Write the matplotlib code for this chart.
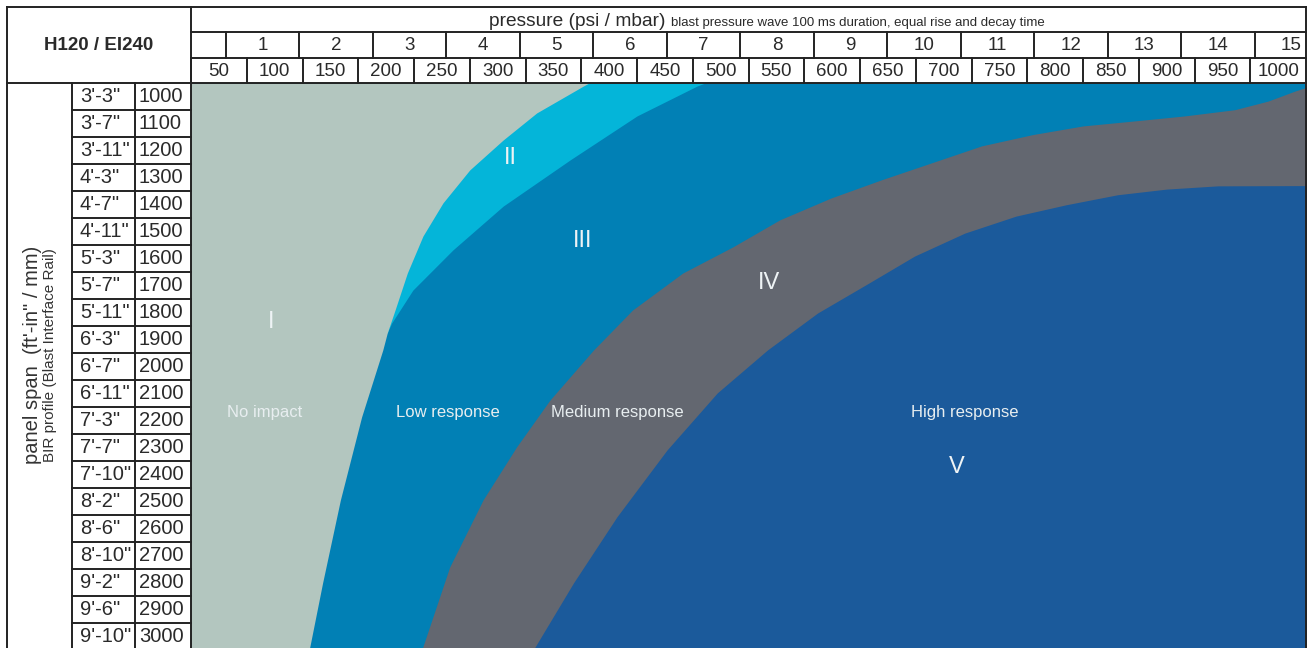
import matplotlib
matplotlib.use('Agg')
import matplotlib.pyplot as plt
from matplotlib.transforms import blended_transform_factory

plt.rcParams['font.family'] = ['Liberation Sans', 'DejaVu Sans']

# header / table values
mbar_ticks = [50, 100, 150, 200, 250, 300, 350, 400, 450, 500,
              550, 600, 650, 700, 750, 800, 850, 900, 950, 1000]
psi_ticks = [1, 2, 3, 4, 5, 6, 7, 8, 9, 10, 11, 12, 13, 14, 15]
span_mm = [1000, 1100, 1200, 1300, 1400, 1500, 1600, 1700, 1800, 1900, 2000,
           2100, 2200, 2300, 2400, 2500, 2600, 2700, 2800, 2900, 3000]
span_ftin = ["3'-3\"", "3'-7\"", "3'-11\"", "4'-3\"", "4'-7\"", "4'-11\"",
             "5'-3\"", "5'-7\"", "5'-11\"", "6'-3\"", "6'-7\"", "6'-11\"",
             "7'-3\"", "7'-7\"", "7'-10\"", "8'-2\"", "8'-6\"", "8'-10\"",
             "9'-2\"", "9'-6\"", "9'-10\""]

# zone boundaries (span mm -> pressure mbar)
# I | II,III  (right edge of "no impact")
b1_mm = [3050, 2802, 2494, 2187, 1939, 1876, 1791, 1654, 1517, 1394,
         1272, 1161, 1061, 961, 950]
b1_mbar = [131, 143, 159, 178, 197, 201, 208, 219, 233, 251,
           275, 305, 335, 377, 382]
# II | III
b2_mm = [1876, 1839, 1717, 1568, 1406, 1235, 1072, 961, 950]
b2_mbar = [201, 205, 224, 260, 305, 365, 425, 479, 486]
# III | IV
b3_mm = [3050, 2743, 2494, 2298, 2124, 1939, 1791, 1654, 1557, 1457, 1376,
         1309, 1246, 1183, 1141, 1109, 1091, 1072, 1049, 1017, 980, 960]
b3_mbar = [232, 257, 287, 317, 347, 386, 421, 466, 511, 553, 599,
           644, 689, 734, 780, 825, 870, 916, 961, 991, 1015, 1030]
# IV | V
b4_mm = [3050, 2802, 2557, 2309, 2098, 1939, 1802, 1691, 1591, 1506,
         1443, 1401, 1364, 1343, 1331, 1330]
b4_mbar = [332, 368, 407, 452, 497, 542, 587, 633, 674, 719,
           765, 810, 856, 900, 946, 1030]

zone_numerals = ['I', 'II', 'III', 'IV', 'V']
numeral_mbar = [97, 311, 376, 543, 712]
numeral_mm = [1835, 1228, 1535, 1691, 2372]
zone_names = ['No impact', 'Low response', 'Medium response', 'High response']
name_mbar = [91, 255, 407, 719]
name_mm = [2172, 2172, 2172, 2172]

col_I = '#b3c6bf'
col_II = '#04b5d9'
col_III = '#0180b5'
col_IV = '#636770'
col_V = '#1b5a9b'
line_col = '#222222'
text_col = '#2a2a2a'

W, H = 1308, 648
fig = plt.figure(figsize=(W / 100, H / 100), dpi=100)
fig.patch.set_facecolor('white')


def fx(px):
    return px / W


def fy(py):
    return 1 - py / H


ax = fig.add_axes([fx(191), 0, fx(1306) - fx(191), fy(83)])
ax.set_xlim(25, 1025)
ax.set_ylim(3043, 950)
ax.set_facecolor(col_III)
for s in ax.spines.values():
    s.set_visible(False)
ax.set_xticks([])
ax.set_yticks([])

# zones
ax.fill_betweenx(b2_mm, 0, b2_mbar, color=col_II, lw=0)
ax.fill_betweenx(b1_mm, 0, b1_mbar, color=col_I, lw=0)
ax.fill_betweenx(b3_mm, b3_mbar, 1100, color=col_IV, lw=0)
ax.fill_betweenx(b4_mm, b4_mbar, 1100, color=col_V, lw=0)

for t, x, y in zip(zone_numerals, numeral_mbar, numeral_mm):
    ax.text(x, y, t, color='#eef3f5', fontsize=17, ha='center', va='center')
for t, x, y in zip(zone_names, name_mbar, name_mm):
    ax.text(x, y, t, color='#e8eef0', fontsize=12, ha='center', va='center')

# table lines
tf = fig.transFigure
xd = blended_transform_factory(ax.transData, tf)
yd = blended_transform_factory(tf, ax.transData)
lkw = dict(color=line_col, lw=1.4, clip_on=False, solid_capstyle='projecting')


def hline(py, px0, px1):
    ax.plot([fx(px0), fx(px1)], [fy(py), fy(py)], transform=tf, **lkw)


def vline(px, py0, py1):
    ax.plot([fx(px), fx(px)], [fy(py0), fy(py1)], transform=tf, **lkw)


hline(7, 7, 1306)
hline(32, 191, 1306)
hline(58, 191, 1306)
hline(83, 7, 1306)
vline(7, 7, 648)
vline(191, 7, 648)
vline(1306, 7, 648)
vline(72, 83, 648)
vline(135, 83, 648)

# title row
ax.text(fx(666), fy(26), 'pressure (psi / mbar)', transform=tf, fontsize=13.8,
        ha='right', va='baseline', color=text_col)
ax.text(fx(671), fy(26), 'blast pressure wave 100 ms duration, equal rise and decay time',
        transform=tf, fontsize=9.5, ha='left', va='baseline', color=text_col)

# psi row
psi_start = 56.4
psi_w = 65.9
ax.plot([psi_start, psi_start], [fy(32), fy(58)], transform=xd, **lkw)
for p in psi_ticks:
    right = psi_start + p * psi_w
    if right < 1025:
        ax.plot([right, right], [fy(32), fy(58)], transform=xd, **lkw)
    ax.text(psi_start + (p - 0.5) * psi_w, fy(45), str(p), transform=xd,
            fontsize=13.5, ha='center', va='center', color=text_col)

# mbar row
for m in mbar_ticks:
    ax.plot([m - 25, m - 25], [fy(58), fy(83)], transform=xd, **lkw)
    ax.text(m, fy(71), str(m), transform=xd, fontsize=13.5, ha='center',
            va='center', color=text_col)

ax.text(fx(99), fy(45), 'H120 / EI240', transform=tf, fontsize=13.5,
        fontweight='bold', ha='center', va='center', color=text_col)

# span rows
for mm, ft in zip(span_mm, span_ftin):
    ax.plot([fx(72), fx(191)], [mm + 50, mm + 50], transform=yd, **lkw)
    ax.text(fx(80), mm, ft, transform=yd, fontsize=14.5, ha='left',
            va='center', color=text_col)
    ax.text(fx(139), mm, str(mm), transform=yd, fontsize=14.5, ha='left',
            va='center', color=text_col)

ax.text(fx(33), fy(355), "panel span  (ft'-in\" / mm)", transform=tf,
        fontsize=14.5, rotation=90, ha='center', va='center', color='#333333')
ax.text(fx(50), fy(355), 'BIR profile (Blast Interface Rail)', transform=tf,
        fontsize=11, rotation=90, ha='center', va='center', color='#333333')

fig.savefig('out.png', dpi=100)
